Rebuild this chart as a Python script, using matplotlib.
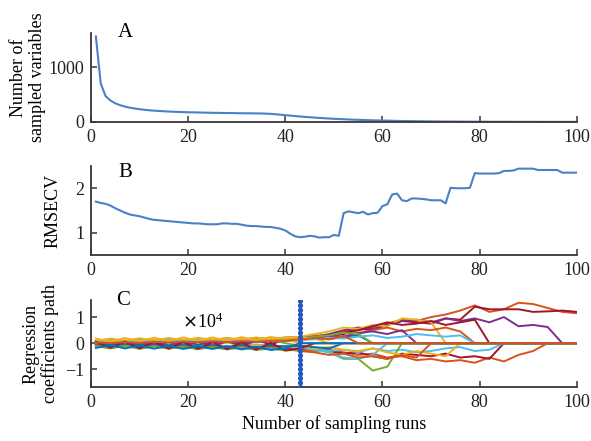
import matplotlib
matplotlib.use('Agg')
import matplotlib.pyplot as plt

plt.rcParams['font.family'] = ['Liberation Serif', 'DejaVu Serif']

# ── Panel A: number of sampled variables per run ─────────────────────────────
runs = list(range(1, 101))
n_vars = [1557, 700, 470, 390, 340, 305, 280, 260, 245, 232,
          222, 213, 206, 200, 195, 190, 186, 183, 180, 177,
          175, 173, 171, 169, 167, 166, 164, 163, 162, 160,
          159, 158, 157, 156, 155, 152, 148, 140, 132, 124,
          116, 108, 100, 93, 86, 80, 74, 68, 63, 58,
          54, 50, 46, 42, 39, 36, 33, 30, 28, 26,
          24, 22, 20, 18, 17, 15, 14, 13, 12, 11,
          10, 9, 8, 8, 7, 7, 6, 6, 5, 5,
          5, 4, 4, 4, 4, 3, 3, 3, 3, 3,
          3, 2, 2, 2, 2, 2, 2, 2, 2, 2]

# ── Panel B: RMSECV per run ──────────────────────────────────────────────────
rmsecv = [1.70, 1.67, 1.65, 1.61, 1.55, 1.50, 1.45, 1.41, 1.39, 1.37,
          1.34, 1.31, 1.29, 1.28, 1.27, 1.26, 1.25, 1.24, 1.23, 1.22,
          1.21, 1.21, 1.20, 1.19, 1.19, 1.19, 1.21, 1.21, 1.20, 1.20,
          1.18, 1.16, 1.15, 1.15, 1.14, 1.13, 1.13, 1.11, 1.09, 1.05,
          0.98, 0.92, 0.90, 0.91, 0.93, 0.92, 0.89, 0.90, 0.90, 0.95,
          0.93, 1.44, 1.48, 1.46, 1.44, 1.47, 1.41, 1.44, 1.45, 1.60,
          1.64, 1.86, 1.88, 1.73, 1.71, 1.77, 1.77, 1.76, 1.75, 1.73,
          1.73, 1.73, 1.66, 2.01, 2.00, 2.00, 2.00, 2.01, 2.34, 2.33,
          2.33, 2.33, 2.33, 2.34, 2.39, 2.39, 2.40, 2.44, 2.44, 2.44,
          2.44, 2.41, 2.41, 2.41, 2.41, 2.41, 2.35, 2.35, 2.35, 2.35]

# ── Panel C: regression coefficient paths (x1e4), read every 3 runs ──────────
runs_c = list(range(1, 101, 3))
best_run = 43

# (colour, values from run 1 until the coefficient is eliminated -> 0)
paths = [
    ('#D95319', [0.05, 0.12, 0.06, 0.14, 0.08, 0.15, 0.10, 0.16, 0.12, 0.18, 0.13, 0.20, 0.16, 0.22, 0.24, 0.30, 0.28,
                 0.45, 0.50, 0.62, 0.75, 0.90, 0.85, 1.00, 1.10, 1.25, 1.45, 1.20, 1.30, 1.55, 1.50, 1.35, 1.20, 1.15]),
    ('#A2142F', [-0.10, 0.02, -0.12, 0.03, -0.10, 0.06, -0.12, 0.08, -0.10, 0.10, -0.08, 0.12, -0.05, 0.15, 0.18, 0.22, 0.30,
                 0.40, 0.55, 0.50, 0.72, 0.85, 0.80, 0.75, 0.95, 0.90, 1.40, 1.30, 1.30, 1.30, 1.20, 1.22, 1.25, 1.20]),
    ('#7E2F8E', [0.02, 0.05, 0.03, 0.06, 0.04, 0.08, 0.05, 0.10, 0.07, 0.10, 0.12, 0.10, 0.14, 0.15, 0.20, 0.25, 0.35,
                 0.50, 0.60, 0.55, 0.70, 0.85, 0.90, 0.80, 0.95, 0.85, 0.95, 0.80, 1.00, 0.65, 0.70, 0.62, 0.0]),
    ('#D95319', [-0.05, -0.14, -0.04, -0.15, -0.06, -0.16, -0.08, -0.15, -0.14, -0.10, -0.18, -0.12, -0.20, -0.22, -0.25,
                 -0.30, -0.25, -0.35, -0.45, -0.40, -0.55, -0.50, -0.65, -0.60, -0.70, -0.65, -0.75, -0.55, -0.70, -0.45,
                 -0.30, 0.0]),
    ('#A2142F', [-0.02, -0.10, -0.03, -0.12, -0.05, -0.14, -0.07, -0.15, -0.08, -0.16, -0.10, -0.18, -0.20, -0.22, -0.25,
                 -0.20, -0.30, -0.40, -0.35, -0.50, -0.60, -0.40, -0.45, -0.50, -0.40, -0.55, -0.50, -0.60, 0.0]),
    ('#4DBEEE', [0.00, -0.08, 0.02, -0.09, -0.02, -0.10, -0.03, -0.11, -0.05, -0.12, -0.07, -0.13, -0.12, -0.15, -0.10,
                 -0.20, -0.30, -0.25, -0.35, -0.20, -0.30, -0.25, -0.35, -0.30, -0.20, -0.15, -0.30, -0.25, 0.0]),
    ('#77AC30', [0.08, 0.00, 0.10, 0.02, 0.11, 0.03, 0.12, 0.04, 0.13, 0.05, 0.14, 0.10, 0.12, 0.00, -0.10, -0.20, -0.35,
                 -0.60, -0.60, -1.05, -0.90, 0.0]),
    ('#4DBEEE', [-0.03, 0.05, -0.04, 0.06, -0.05, 0.05, -0.06, 0.04, -0.07, 0.03, -0.08, -0.05, -0.10, -0.12, -0.18,
                 -0.25, -0.35, -0.55, -0.60, -0.45, 0.0]),
    ('#EDB120', [0.10, 0.15, 0.08, 0.16, 0.10, 0.17, 0.12, 0.18, 0.13, 0.19, 0.14, 0.20, 0.15, 0.20, 0.25, 0.35, 0.45,
                 0.60, 0.55, 0.70, 0.65, 0.95, 0.90, 0.80, 0.0]),
    ('#EDB120', [-0.06, 0.04, -0.07, 0.05, -0.08, 0.06, -0.09, 0.05, -0.10, 0.04, -0.12, -0.08, -0.14, -0.15, -0.12,
                 -0.20, -0.15, -0.25, -0.30, -0.20, -0.35, -0.45, -0.30, -0.40, -0.50, 0.0]),
    ('#0072BD', [0.03, -0.06, 0.04, -0.07, 0.05, -0.08, 0.06, -0.06, 0.04, 0.08, 0.03, 0.06, 0.10, 0.08, 0.12, 0.20, 0.15,
                 0.25, 0.30, 0.0]),
    ('#D95319', [0.04, 0.07, 0.03, 0.08, 0.05, 0.09, 0.06, 0.11, 0.08, 0.12, 0.09, 0.13, 0.11, 0.14, 0.12, 0.20, 0.25,
                 0.40, 0.35, 0.50, 0.60, 0.45, 0.55, 0.50, 0.60, 0.45, 0.0]),
    ('#A2142F', [0.01, 0.04, 0.00, 0.05, 0.02, 0.06, 0.03, 0.07, 0.04, 0.09, 0.05, 0.10, 0.08, 0.12, 0.15, 0.20, 0.30,
                 0.35, 0.50, 0.65, 0.80, 0.70, 0.75, 0.85, 0.70, 0.80, 0.90, 0.0]),
    ('#7E2F8E', [-0.08, 0.03, -0.09, 0.04, -0.10, 0.05, -0.11, 0.06, -0.10, 0.07, -0.09, 0.08, 0.06, 0.10, 0.14, 0.18, 0.30,
                 0.25, 0.40, 0.45, 0.35, 0.50, 0.0]),
    ('#77AC30', [0.05, 0.12, 0.07, 0.13, 0.08, 0.14, 0.09, 0.15, 0.10, 0.16, 0.11, 0.17, 0.12, 0.15, 0.18, 0.25, 0.30,
                 0.40, 0.35, 0.0]),
    ('#0072BD', [-0.04, -0.12, -0.05, -0.13, -0.06, -0.14, -0.07, -0.15, -0.08, -0.16, -0.09, -0.17, -0.10, -0.12, -0.10,
                 -0.15, -0.20, 0.0]),
    ('#EDB120', [0.08, 0.18, 0.09, 0.19, 0.10, 0.20, 0.11, 0.21, 0.12, 0.20, 0.13, 0.22, 0.15, 0.20, 0.22, 0.18, 0.0]),
    ('#D95319', [-0.08, -0.18, -0.10, -0.19, -0.11, -0.20, -0.12, -0.21, -0.13, -0.22, -0.15, -0.24, -0.18, -0.22, -0.30,
                 -0.35, -0.45, -0.40, -0.55, -0.50, -0.60, -0.45, -0.55, 0.0]),
    ('#4DBEEE', [0.02, 0.10, 0.03, 0.11, 0.04, 0.12, 0.05, 0.13, 0.06, 0.14, 0.07, 0.11, 0.08, 0.10, 0.12, 0.15, 0.20,
                 0.18, 0.25, 0.30, 0.20, 0.25, 0.35, 0.30, 0.25, 0.30, 0.0]),
    ('#77AC30', [-0.12, -0.20, -0.10, -0.22, -0.12, -0.21, -0.14, -0.23, -0.15, -0.24, -0.16, -0.26, -0.20, -0.28, -0.25,
                 0.0]),
    ('#A2142F', [0.06, -0.18, 0.07, -0.20, 0.06, -0.21, 0.05, -0.22, 0.04, -0.23, 0.03, -0.25, 0.02, -0.28, -0.20, 0.0]),
    ('#EDB120', [0.18, 0.06, 0.20, 0.07, 0.21, 0.08, 0.22, 0.09, 0.22, 0.10, 0.23, 0.11, 0.24, 0.15, 0.0]),
    ('#0072BD', [-0.18, -0.08, -0.20, -0.09, -0.21, -0.10, -0.22, -0.11, -0.22, -0.12, -0.24, -0.14, -0.26, -0.20, 0.0]),
    ('#D95319', [0.03, 0.00, 0.04, 0.01, 0.05, 0.02, 0.06, 0.03, 0.07, 0.04, 0.08, 0.05, 0.09, 0.10, 0.14, 0.20, 0.15,
                 0.28, 0.0]),
]

AX_COL = '#3d3434'
LINE_BLUE = '#4a80c8'
FS = 13

fig = plt.figure(figsize=(5.91, 4.41), dpi=100)
ax_a = fig.add_axes([0.154, 0.7234, 0.822, 0.2018])
ax_b = fig.add_axes([0.154, 0.4218, 0.822, 0.2018])
ax_c = fig.add_axes([0.154, 0.1224, 0.822, 0.1970])


def style(ax):
    for s in ('top', 'right'):
        ax.spines[s].set_visible(False)
    for s in ('left', 'bottom'):
        ax.spines[s].set_color(AX_COL)
        ax.spines[s].set_linewidth(1.3)
    ax.tick_params(direction='in', length=4, width=1.1, color=AX_COL,
                   labelsize=FS, labelcolor='#222222', pad=5)
    ax.set_xlim(0, 100)
    ax.set_xticks([0, 20, 40, 60, 80, 100])


# A
ax_a.plot(runs, n_vars, color=LINE_BLUE, lw=1.5)
style(ax_a)
ax_a.set_ylim(0, 1620)
ax_a.set_yticks([0, 1000])
ax_a.set_ylabel('Number of\nsampled variables', fontsize=FS, linespacing=1.1, labelpad=2)
ax_a.text(0.07, 1.0, 'A', transform=ax_a.transAxes, fontsize=15, ha='center', va='center')

# B
ax_b.plot(runs, rmsecv, color=LINE_BLUE, lw=1.5)
style(ax_b)
ax_b.set_ylim(0.5, 2.5)
ax_b.set_yticks([1, 2])
ax_b.set_ylabel('RMSECV', fontsize=FS, labelpad=10)
ax_b.text(0.07, 0.93, 'B', transform=ax_b.transAxes, fontsize=15, ha='center', va='center')

# C
for color, vals in paths:
    full = vals + [0.0] * (len(runs_c) - len(vals))
    ax_c.plot(runs_c, full, color=color, lw=1.4)
ax_c.axvline(best_run, color='#2458c0', lw=3.8, ls=(0, (0.01, 0.85)),
             dash_capstyle='round', zorder=5)
style(ax_c)
ax_c.set_ylim(-1.68, 1.65)
ax_c.set_yticks([-1, 0, 1])
ax_c.set_ylabel('Regression\ncoefficients path', fontsize=FS, linespacing=1.1, labelpad=4)
ax_c.set_xlabel('Number of sampling runs', fontsize=FS, labelpad=3)
ax_c.text(0.066, 1.0, 'C', transform=ax_c.transAxes, fontsize=15, ha='center', va='center')
ax_c.text(0.23, 0.75, r'$\times\mathregular{10^4}$', transform=ax_c.transAxes,
          fontsize=FS, ha='center', va='center')

fig.savefig('out.png', dpi=100, facecolor='white')
